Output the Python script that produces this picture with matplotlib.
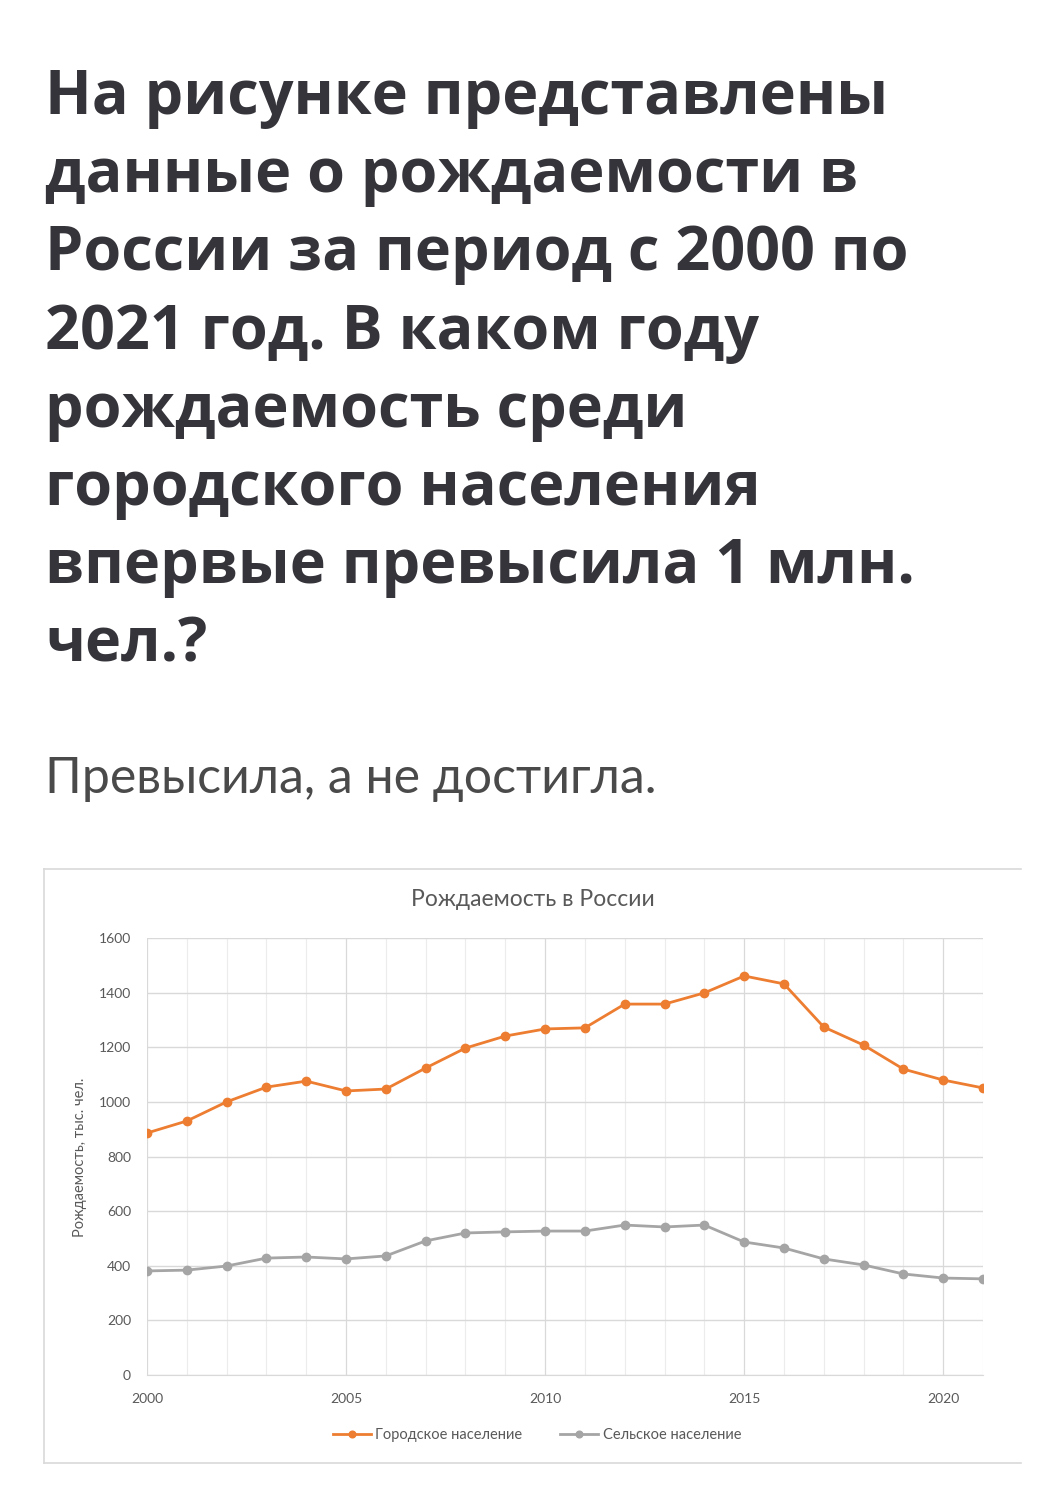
import matplotlib
matplotlib.use("Agg")
import matplotlib.pyplot as plt
from matplotlib.lines import Line2D
from matplotlib.ticker import MultipleLocator

years = list(range(2000, 2022))
urban = [886, 930, 1000, 1054, 1076, 1040, 1047, 1124, 1197, 1241, 1267, 1271,
         1358, 1358, 1399, 1461, 1432, 1274, 1208, 1120, 1080, 1051]
rural = [381, 384, 399, 428, 432, 425, 436, 491, 520, 524, 527, 527,
         549, 542, 549, 487, 465, 425, 403, 370, 355, 352]
series_names = ["Городское население", "Сельское население"]
yticks = [0, 200, 400, 600, 800, 1000, 1200, 1400, 1600]
xticks = [2000, 2005, 2010, 2015, 2020]

question_lines = ["На рисунке представлены", "данные о рождаемости в",
                  "России за период с 2000 по", "2021 год. В каком году",
                  "рождаемость среди", "городского населения",
                  "впервые превысила 1 млн.", "чел.?"]
subtitle = "Превысила, а не достигла."
chart_title = "Рождаемость в России"
ylabel = "Рождаемость, тыс. чел."

W, H = 1049, 1488
fig = plt.figure(figsize=(W / 100, H / 100), dpi=100)
fig.patch.set_facecolor("white")

def fx(x):
    return x / W

def fy(y):
    return 1 - y / H

# Question text
baseline0 = 114
step = 78.2
for i, line in enumerate(question_lines):
    fig.text(fx(45), fy(baseline0 + i * step), line, fontsize=44,
             fontweight="bold", family=["Open Sans", "DejaVu Sans"],
             color="#35343a", ha="left", va="baseline")

fig.text(fx(45), fy(793), subtitle, fontsize=36, family=["Lato", "DejaVu Sans"],
         color="#4a4a4a", ha="left", va="baseline")

# Chart frame
frame_color = "#d9d9d9"
for (x0, y0, x1, y1) in [(44, 869, 1021, 869), (44, 869, 44, 1463), (44, 1463, 1021, 1463)]:
    fig.add_artist(Line2D([fx(x0), fx(x1)], [fy(y0), fy(y1)], color=frame_color,
                          lw=1.2, transform=fig.transFigure))

cfont = ["Lato", "DejaVu Sans"]
fig.text(fx(533), fy(899), chart_title, fontsize=16.5, family=cfont, color="#595959",
         ha="center", va="center")

ax = fig.add_axes([fx(147), fy(1375), fx(983) - fx(147), (1375 - 938) / H])
ax.plot(years, urban, color="#ED7D31", marker="o", markersize=6, lw=2,
        label=series_names[0], zorder=3)
ax.plot(years, rural, color="#A5A5A5", marker="o", markersize=6, lw=2,
        label=series_names[1], zorder=3)
ax.set_xlim(2000, 2021)
ax.set_ylim(0, 1600)
ax.set_yticks(yticks)
ax.set_xticks(xticks)
ax.xaxis.set_minor_locator(MultipleLocator(1))
ax.grid(True, which="major", axis="y", color="#d9d9d9", lw=1)
ax.grid(True, which="major", axis="x", color="#d9d9d9", lw=0.9)
ax.grid(True, which="minor", axis="x", color="#ececec", lw=0.8)
ax.set_axisbelow(True)
for s in ["top", "right", "left"]:
    ax.spines[s].set_visible(False)
ax.spines["bottom"].set_color("#d9d9d9")
ax.tick_params(axis="both", which="both", length=0, labelsize=10,
               labelcolor="#595959")
ax.tick_params(axis="y", pad=11.5)
ax.tick_params(axis="x", pad=13)
for lab in ax.get_xticklabels() + ax.get_yticklabels():
    lab.set_family(cfont)

fig.text(fx(80), fy(1157), ylabel, rotation=90, fontsize=10.5, family=cfont,
         color="#595959", ha="center", va="center")

leg = fig.legend(handles=ax.get_lines(), labels=series_names, loc="center",
                 bbox_to_anchor=(fx(537), fy(1435)), ncol=2, frameon=False,
                 prop={"family": cfont, "size": 10.5}, handlelength=2.6,
                 handletextpad=0.3, columnspacing=2.6, markerscale=0.8)
for t in leg.get_texts():
    t.set_color("#595959")

fig.savefig("out.png", dpi=100, facecolor="white")
